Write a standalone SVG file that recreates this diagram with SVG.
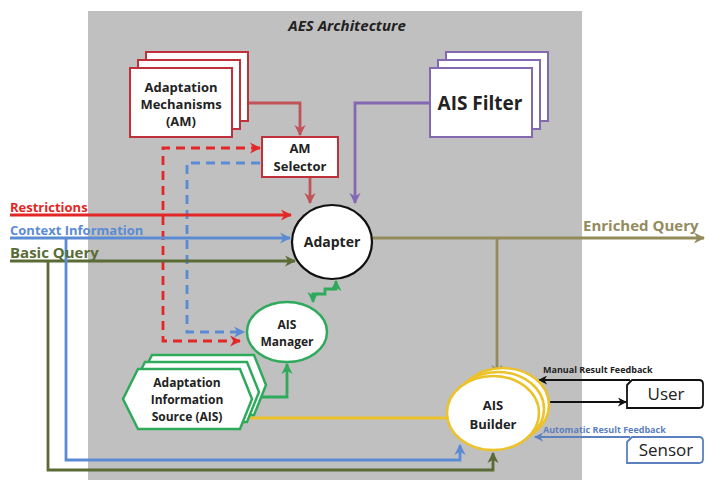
<svg xmlns="http://www.w3.org/2000/svg" width="706" height="480" viewBox="0 0 706 480">
<defs>
<style>
text{font-family:"Open Sans","Liberation Sans",sans-serif;font-weight:bold;fill:#222;text-anchor:middle}
.ln{fill:none;stroke-width:2.8}
</style>
<marker id="aRed" viewBox="0 0 10 10" refX="9" refY="5" markerWidth="4" markerHeight="4" orient="auto-start-reverse"><path d="M0,0 L10,5 L0,10 L3,5 Z" fill="#e32626"/></marker>
<marker id="aDRed" viewBox="0 0 10 10" refX="9" refY="5" markerWidth="4" markerHeight="4" orient="auto"><path d="M0,0 L10,5 L0,10 L3,5 Z" fill="#c05358"/></marker>
<marker id="aBlue" viewBox="0 0 10 10" refX="9" refY="5" markerWidth="4" markerHeight="4" orient="auto"><path d="M0,0 L10,5 L0,10 L3,5 Z" fill="#5b8bd3"/></marker>
<marker id="aOlive" viewBox="0 0 10 10" refX="9" refY="5" markerWidth="4" markerHeight="4" orient="auto"><path d="M0,0 L10,5 L0,10 L3,5 Z" fill="#5a6b35"/></marker>
<marker id="aKhaki" viewBox="0 0 10 10" refX="9" refY="5" markerWidth="4" markerHeight="4" orient="auto"><path d="M0,0 L10,5 L0,10 L3,5 Z" fill="#948b5c"/></marker>
<marker id="aPurple" viewBox="0 0 10 10" refX="9" refY="5" markerWidth="4" markerHeight="4" orient="auto"><path d="M0,0 L10,5 L0,10 L3,5 Z" fill="#8468b2"/></marker>
<marker id="aGreen" viewBox="0 0 10 10" refX="9" refY="5" markerWidth="4" markerHeight="4" orient="auto-start-reverse"><path d="M0,0 L10,5 L0,10 L3,5 Z" fill="#2faa5c"/></marker>
<marker id="aBlack" viewBox="0 0 10 10" refX="9" refY="5" markerWidth="5" markerHeight="5" orient="auto"><path d="M0,0 L10,5 L0,10 L3,5 Z" fill="#111"/></marker>
<marker id="aSBlue" viewBox="0 0 10 10" refX="9" refY="5" markerWidth="5" markerHeight="5" orient="auto"><path d="M0,0 L10,5 L0,10 L3,5 Z" fill="#5b7fbf"/></marker>
</defs>
<rect width="706" height="480" fill="#ffffff"/>
<g id="aes-area">
<rect x="88" y="11" width="494" height="469" fill="#c0c0c0"/>
<text x="347" y="31" font-size="15" font-style="italic">AES Architecture</text>
</g>

<g id="connectors">
<path class="ln" d="M248,103 H300 V135" stroke="#c05358" marker-end="url(#aDRed)"/>
<path class="ln" d="M310,177 V203" stroke="#c05358" marker-end="url(#aDRed)"/>
<path class="ln" d="M430,103 H355 V203" stroke="#8468b2" marker-end="url(#aPurple)"/>
<path class="ln" d="M260,148 H163 V341 H240" stroke="#e32626" stroke-dasharray="9,6" marker-end="url(#aRed)" marker-start="url(#aRed)"/>
<path class="ln" d="M260,163 H187 V332 H244" stroke="#5b8bd3" stroke-dasharray="9,6" marker-end="url(#aBlue)"/>
<path class="ln" d="M10,215 H291" stroke="#e32626" marker-end="url(#aRed)"/>
<path class="ln" d="M10,238 H290" stroke="#5b8bd3" marker-end="url(#aBlue)"/>
<path class="ln" d="M10,261 H295" stroke="#5a6b35" marker-end="url(#aOlive)"/>
<path class="ln" d="M66,238 V460 H460 V445" stroke="#5b8bd3" marker-end="url(#aBlue)"/>
<path class="ln" d="M48,261 V470 H493 V453" stroke="#5a6b35" marker-end="url(#aOlive)"/>
<path class="ln" d="M372,238 H704" stroke="#948b5c" marker-end="url(#aKhaki)"/>
<path class="ln" d="M497,238 V375" stroke="#948b5c" marker-end="url(#aKhaki)"/>
<path class="ln" d="M313,302 V294 H325 V289 H336 V281" stroke="#2faa5c" marker-start="url(#aGreen)" marker-end="url(#aGreen)"/>
<path class="ln" d="M255,397 H287 V364" stroke="#2faa5c" marker-end="url(#aGreen)"/>
<path class="ln" d="M245,418 H448" stroke="#ebc22a"/>
<path d="M630,380 H539" fill="none" stroke="#111" stroke-width="1.8" marker-end="url(#aBlack)"/>
<path d="M548,402 H626" fill="none" stroke="#111" stroke-width="1.8" marker-end="url(#aBlack)"/>
<path d="M630,437 H535" fill="none" stroke="#5b7fbf" stroke-width="1.8" marker-end="url(#aSBlue)"/>
</g>

<g id="labels">
<text x="10" y="212" font-size="13" style="fill:#e32626;text-anchor:start">Restrictions</text>
<text x="10" y="235" font-size="13" style="fill:#5b8bd3;text-anchor:start">Context Information</text>
<text x="10" y="258" font-size="15" style="fill:#5a6b35;text-anchor:start">Basic Query</text>
<text x="583" y="231" font-size="15" style="fill:#948b5c;text-anchor:start">Enriched Query</text>
<text x="543" y="373" font-size="9" style="fill:#222;text-anchor:start">Manual Result Feedback</text>
<text x="543" y="433" font-size="9" style="fill:#5b7fbf;text-anchor:start">Automatic Result Feedback</text>
</g>

<g id="am">
<rect x="146" y="52" width="102" height="69" fill="#fff" stroke="#c0303a" stroke-width="2"/>
<rect x="138" y="60" width="102" height="69" fill="#fff" stroke="#c0303a" stroke-width="2"/>
<rect x="130" y="68" width="102" height="69" fill="#fff" stroke="#c0303a" stroke-width="2"/>
<text x="181" y="92" font-size="13">Adaptation</text>
<text x="181" y="109" font-size="13">Mechanisms</text>
<text x="181" y="126" font-size="13">(AM)</text>
</g>

<g id="am-selector">
<rect x="262" y="137" width="76" height="40" fill="#fff" stroke="#c0303a" stroke-width="2"/>
<text x="300" y="153" font-size="13">AM</text>
<text x="300" y="171" font-size="13">Selector</text>
</g>

<g id="ais-filter">
<rect x="446" y="52" width="102" height="69" fill="#fff" stroke="#8468b2" stroke-width="2"/>
<rect x="438" y="60" width="102" height="69" fill="#fff" stroke="#8468b2" stroke-width="2"/>
<rect x="430" y="68" width="102" height="69" fill="#fff" stroke="#8468b2" stroke-width="2"/>
<text x="480" y="110" font-size="19">AIS Filter</text>
</g>

<g id="adapter">
<ellipse cx="332" cy="242" rx="40" ry="37" fill="#fff" stroke="#111" stroke-width="2.2"/>
<text x="332" y="247" font-size="14">Adapter</text>
</g>

<g id="ais-manager">
<ellipse cx="287" cy="332" rx="40" ry="30" fill="#fff" stroke="#2faa5c" stroke-width="2.5"/>
<text x="287" y="329" font-size="12">AIS</text>
<text x="287" y="346" font-size="12">Manager</text>
</g>

<g id="ais">
<polygon points="137,385 152,355 254,355 266,385 254,415 152,415" fill="#fff" stroke="#2faa5c" stroke-width="2.5"/>
<polygon points="130,392 145,362 247,362 259,392 247,422 145,422" fill="#fff" stroke="#2faa5c" stroke-width="2.5"/>
<polygon points="123,399 138,369 240,369 252,399 240,429 138,429" fill="#fff" stroke="#2faa5c" stroke-width="2.5"/>
<text x="187" y="387" font-size="12">Adaptation</text>
<text x="187" y="404" font-size="12">Information</text>
<text x="187" y="421" font-size="12">Source (AIS)</text>
</g>

<g id="ais-builder">
<ellipse cx="503" cy="405" rx="46" ry="37" fill="#fff" stroke="#ebc22a" stroke-width="2.5"/>
<ellipse cx="498" cy="409" rx="46" ry="37" fill="#fff" stroke="#ebc22a" stroke-width="2.5"/>
<ellipse cx="493" cy="413" rx="46" ry="37" fill="#fff" stroke="#ebc22a" stroke-width="2.5"/>
<text x="493" y="410" font-size="13">AIS</text>
<text x="493" y="429" font-size="13">Builder</text>
</g>

<g id="user">
<path d="M627,385 L632,380 H699 Q703,380 703,384 V404 Q703,408 699,408 H627 Z" fill="#fff" stroke="#111" stroke-width="1.8"/>
<text x="666" y="400" font-size="17" style="font-weight:normal">User</text>
</g>

<g id="sensor">
<path d="M627,442 L632,437 H699 Q703,437 703,441 V459 Q703,463 699,463 H627 Z" fill="#fff" stroke="#5b7fbf" stroke-width="1.8"/>
<text x="666" y="456" font-size="17" style="font-weight:normal">Sensor</text>
</g>
</svg>
